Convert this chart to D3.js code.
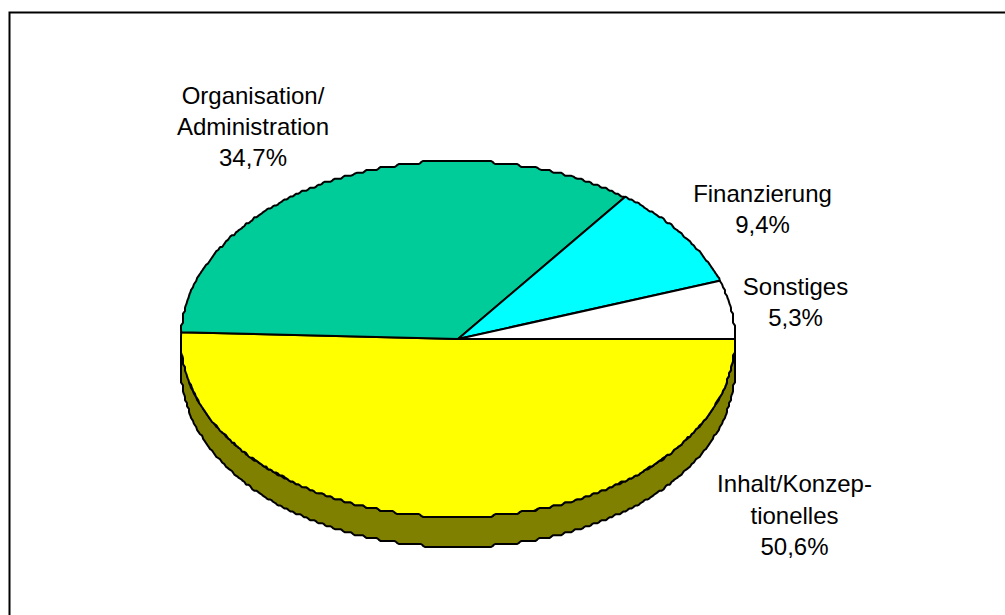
<!DOCTYPE html>
<html>
<head>
<meta charset="utf-8">
<script src="https://cdn.jsdelivr.net/npm/d3@7"></script>
<style>
html, body { margin: 0; padding: 0; background: #fff; overflow: hidden; }
svg { display: block; }
text { font-family: "Liberation Sans", Arial, sans-serif; font-size: 24px; fill: #000; text-anchor: middle; }
</style>
</head>
<body>
<svg id="chart" width="1005" height="615"></svg>
<script>
const categories = ["Inhalt/Konzeptionelles", "Organisation/Administration", "Finanzierung", "Sonstiges"];
const shares = [50.6, 34.7, 9.4, 5.3];
const sliceColors = ["#ffff00", "#00cc99", "#00ffff", "#ffffff"];
const sideColor = "#808000";
const labelLines = [
  ["Inhalt/Konzep-", "tionelles", "50,6%"],
  ["Organisation/", "Administration", "34,7%"],
  ["Finanzierung", "9,4%"],
  ["Sonstiges", "5,3%"]
];
const labelAnchors = [[794.5, 492], [253, 104], [762.5, 202], [795.5, 295]];
const labelGaps = [31.5, 31, 31, 31];

const svg = d3.select("#chart");

// Outer frame: only the top and left edges fall inside the page.
svg.append("path")
  .attr("d", "M9.5,615V12.5H1005")
  .attr("fill", "none").attr("stroke", "#000").attr("stroke-width", 2);

// Flattened disc geometry; the scales map unit-circle coordinates to the page.
const x = d3.scaleLinear().domain([-1, 1]).range([181, 735]);
const y = d3.scaleLinear().domain([-1, 1]).range([161, 517]);
const depth = 30;

// Start at three o'clock and run clockwise on the page.
const arcs = d3.pie().sort(null).startAngle(Math.PI / 2).endAngle(Math.PI * 2.5)(shares);

// Rim samples are snapped to a coarse grid around the centre, then the corners
// of the resulting staircase are cut so the steps read as short slanted joins.
const snapUnit = (v, steps) => Math.round(v * steps) / steps;
const rim = a => [x(snapUnit(Math.sin(a), 138)), y(snapUnit(-Math.cos(a), 60))];
const exact = a => [x(Math.sin(a)), y(-Math.cos(a))];
function rimPoints(a0, a1) {
  const n = Math.max(2, Math.ceil((a1 - a0) / (Math.PI / 360)));
  const raw = d3.range(n + 1).map(i => rim(a0 + (a1 - a0) * i / n));
  const steps = raw.filter((p, i) => i === 0 || p[0] !== raw[i - 1][0] || p[1] !== raw[i - 1][1]);
  steps[0] = exact(a0);
  steps[steps.length - 1] = exact(a1);
  const out = [steps[0]];
  d3.pairs(steps).forEach(([p, q]) => {
    const dx = q[0] - p[0], dy = q[1] - p[1], len = Math.hypot(dx, dy);
    const t = Math.min(1.4, len / 2) / len;
    out.push([p[0] + dx * t, p[1] + dy * t], [q[0] - dx * t, q[1] - dy * t]);
  });
  out.push(steps[steps.length - 1]);
  return out;
}
const line = d3.line();

// Side wall below the front half of the disc.
const front = rimPoints(Math.PI / 2, Math.PI * 1.5);
const wall = front.concat(front.slice().reverse().map(p => [p[0], p[1] + depth]));
svg.append("path")
  .attr("d", line(wall) + "Z")
  .attr("fill", sideColor).attr("stroke", "#000").attr("stroke-width", 2).attr("stroke-linejoin", "round");

// Top faces of the slices.
svg.selectAll("path.slice").data(arcs).join("path")
  .attr("class", "slice")
  .attr("d", d => line([[x(0), y(0)]].concat(rimPoints(d.startAngle, d.endAngle))) + "Z")
  .attr("fill", (d, i) => sliceColors[i])
  .attr("stroke", "#000").attr("stroke-width", 2).attr("stroke-linejoin", "round");

// Category labels with their percentages.
labelLines.forEach((lines, i) => {
  const t = svg.append("text").attr("x", labelAnchors[i][0]).attr("y", labelAnchors[i][1]);
  lines.forEach((s, j) => t.append("tspan").attr("x", labelAnchors[i][0]).attr("dy", j ? labelGaps[i] : 0).text(s));
});
</script>
</body>
</html>
